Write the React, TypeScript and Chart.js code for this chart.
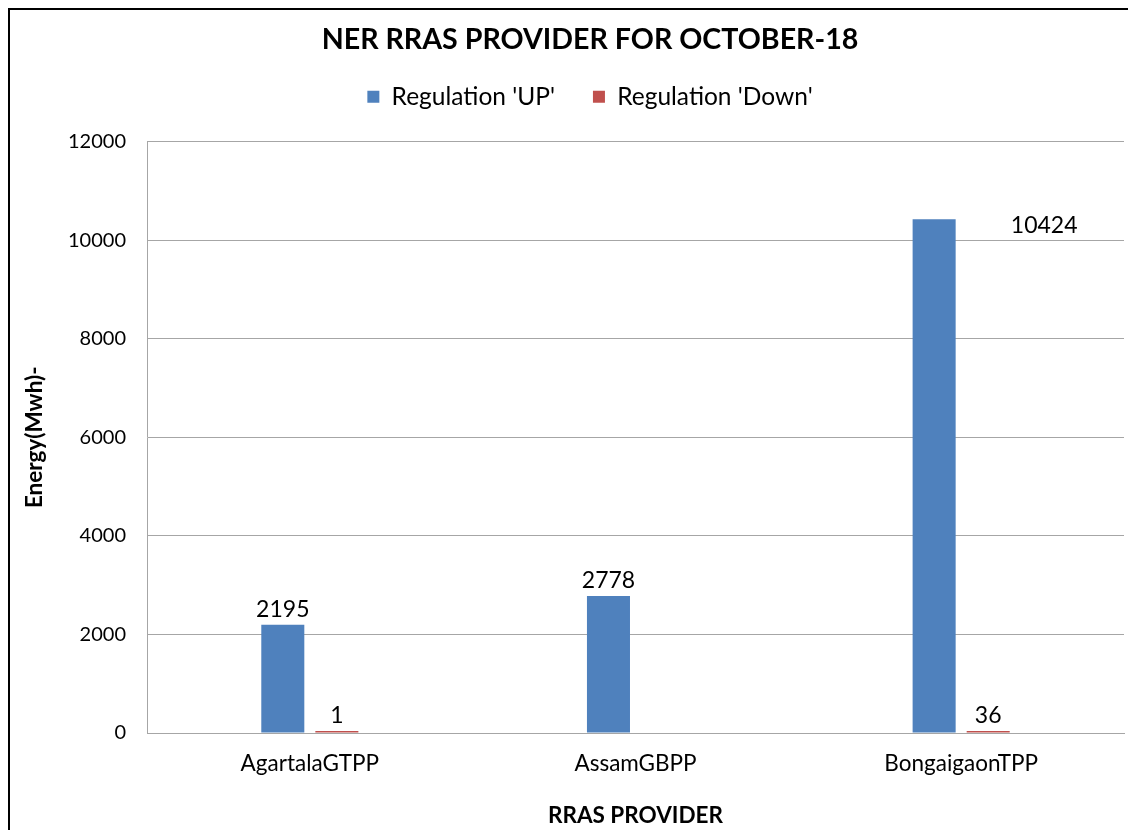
import React, { useEffect, useRef } from "react";
import { Chart, registerables } from "chart.js";

Chart.register(...registerables);

const chartTitle = "NER RRAS PROVIDER FOR OCTOBER-18";
const categories = ["AgartalaGTPP", "AssamGBPP", "BongaigaonTPP"];
const regulationUp = [2195, 2778, 10424];
const regulationDown: (number | null)[] = [1, null, 36];
const seriesNames = ["Regulation 'UP'", "Regulation 'Down'"];
const yTicks = { min: 0, max: 12000, step: 2000 };
const yAxisTitle = "Energy(Mwh)-";
const xAxisTitle = "RRAS PROVIDER";

const FONT = "Lato";

const dataLabelPlugin = {
  id: "dataLabels",
  afterDatasetsDraw(chart: any, _args: any, opts: any) {
    const ctx = chart.ctx;
    ctx.save();
    ctx.font = `${opts.size}px ${FONT}`;
    ctx.fillStyle = "#000";
    ctx.textBaseline = "alphabetic";
    chart.data.datasets.forEach((ds: any, di: number) => {
      const meta = chart.getDatasetMeta(di);
      meta.data.forEach((el: any, i: number) => {
        const v = ds.data[i];
        if (v === null || v === undefined) return;
        const ov = (opts.overrides || []).find(
          (o: any) => o.dataset === di && o.index === i
        );
        let x = el.x;
        let y = el.y - opts.gap;
        ctx.textAlign = "center";
        if (ov) {
          x += ov.dx;
          y += ov.dy;
        }
        ctx.fillText(String(v), x, y);
      });
    });
    ctx.restore();
  },
};

export default function App() {
  const ref = useRef<HTMLCanvasElement | null>(null);

  useEffect(() => {
    if (!ref.current) return;
    Chart.defaults.font.family = FONT;
    const chart = new Chart(ref.current, {
      type: "bar",
      data: {
        labels: categories,
        datasets: [
          {
            label: seriesNames[0],
            data: regulationUp,
            backgroundColor: "#4F81BD",
            borderWidth: 0,
            categoryPercentage: 0.332,
            barPercentage: 0.796,
          },
          {
            label: seriesNames[1],
            data: regulationDown,
            backgroundColor: "#C0504D",
            borderWidth: 0,
            minBarLength: 2,
            categoryPercentage: 0.332,
            barPercentage: 0.796,
          },
        ],
      },
      options: {
        responsive: false,
        animation: false,
        layout: { padding: { left: 46, right: 12, top: 0, bottom: 0 } },
        plugins: {
          title: {
            display: true,
            text: chartTitle,
            color: "#000",
            font: { family: FONT, size: 28.6, weight: "bold", lineHeight: 1.2 },
            padding: { top: 12.8, bottom: -10.6 },
          },
          subtitle: {
            display: true,
            text: " ",
            weight: 500,
            font: { size: 10, lineHeight: 1 },
            padding: { top: 12.5, bottom: 0 },
          } as any,
          legend: {
            display: true,
            position: "top",
            labels: {
              color: "#000",
              font: { family: FONT, size: 24.5 },
              boxWidth: 12,
              boxHeight: 12,
              padding: 38,
            },
          },
          tooltip: { enabled: false },
          dataLabels: {
            size: 23,
            gap: 8,
            overrides: [{ dataset: 0, index: 2, dx: 110, dy: 22 }],
          },
        } as any,
        scales: {
          x: {
            grid: { display: false, drawTicks: false },
            border: { display: true, color: "#A6A6A6" },
            ticks: { color: "#000", font: { family: FONT, size: 22.5 }, padding: 17 },
            title: {
              display: true,
              text: xAxisTitle,
              color: "#000",
              font: { family: FONT, size: 22.5, weight: "bold", lineHeight: 1.2 },
              padding: { top: 0, bottom: 1 },
            },
            afterFit: (s: any) => {
              s.height = 97;
            },
          },
          y: {
            min: yTicks.min,
            max: yTicks.max,
            grid: { color: "#A6A6A6", drawTicks: false, lineWidth: 1 },
            border: { display: true, color: "#A6A6A6" },
            ticks: {
              stepSize: yTicks.step,
              color: "#000",
              font: { family: FONT, size: 20 },
              padding: 21,
              callback: (v: any) => String(v),
            },
            title: {
              display: true,
              text: yAxisTitle,
              color: "#000",
              font: { family: FONT, size: 22.5, weight: "bold", lineHeight: 1.2 },
              padding: { top: -34.5, bottom: 0 },
            },
            afterFit: (s: any) => {
              s.width = 91;
            },
          },
        },
      },
      plugins: [dataLabelPlugin],
    });
    return () => chart.destroy();
  }, []);

  return (
    <div
      style={{
        width: 1128,
        height: 822,
        boxSizing: "border-box",
        borderLeft: "2px solid #000",
        borderTop: "2px solid #000",
        overflow: "hidden",
        background: "#fff",
      }}
    >
      <canvas
        ref={ref}
        width={1126}
        height={820}
        style={{ display: "block", width: 1126, height: 820 }}
      />
    </div>
  );
}
